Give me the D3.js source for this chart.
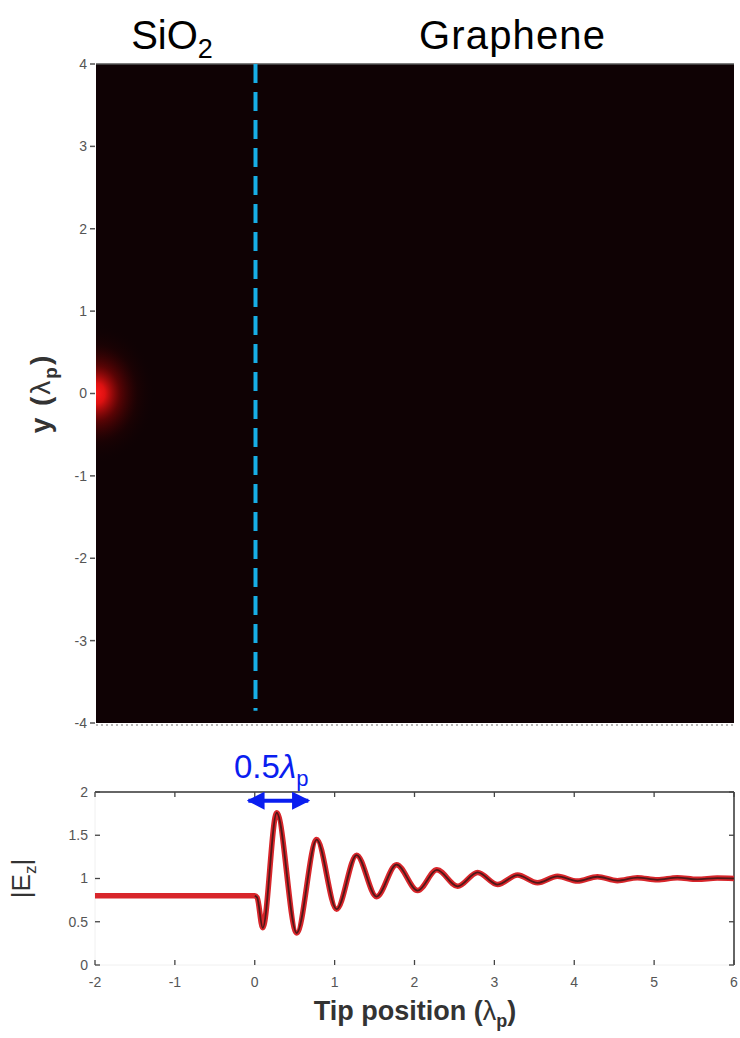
<!DOCTYPE html>
<html><head><meta charset="utf-8">
<script src="https://cdn.jsdelivr.net/npm/d3@7/dist/d3.min.js"></script>
<style>body{margin:0;background:#fff}svg{display:block}</style>
</head><body>
<script>
// ---- data ----
const xTicks = [-2,-1,0,1,2,3,4,5,6];
const yTicksTop = [4,3,2,1,0,-1,-2,-3,-4];
const yTicksBot = [0,0.5,1,1.5,2];
const yTickLabelsBot = ["0","0.5","1","1.5","2"];
const tipPos = [-2,-1,0,0.03,0.1,0.275,0.525,0.775,1.025,1.275,1.525,1.775,2.04,2.28,2.54,2.79,3.04,3.29,3.54,3.79,4.04,4.29,4.54,4.79,5.04,5.29,5.54,5.79,6];
const ezAbs  = [0.8,0.8,0.8,0.78,0.43,1.76,0.37,1.45,0.645,1.27,0.79,1.16,0.86,1.10,0.91,1.07,0.93,1.04,0.95,1.025,0.97,1.02,0.975,1.01,0.985,1.01,0.99,1.005,1.0];
const glowCenter = [-2, 0];
const glowRadius = [0.75, 0.85]; // in data units (x, y)
const interfaceX = 0;
const arrowSpan = [-0.08, 0.67];
const arrowY = 1.9;

const W = 740, H = 1038;
const FONT = "Liberation Sans, Arial, sans-serif";
const svg = d3.select("body").append("svg").attr("width", W).attr("height", H);
const defs = svg.append("defs");

// ---- top panel ----
const xT = d3.scaleLinear().domain([-2,6]).range([96,734]);
const yT = d3.scaleLinear().domain([-4,4]).range([723,64]);

defs.append("clipPath").attr("id","clipTop").append("rect")
  .attr("x", xT(-2)).attr("y", yT(4)).attr("width", xT(6)-xT(-2)).attr("height", yT(-4)-yT(4));

const rg = defs.append("radialGradient").attr("id","glow");
rg.append("stop").attr("offset","0%").attr("stop-color","#ff1a1a").attr("stop-opacity",1);
rg.append("stop").attr("offset","15%").attr("stop-color","#e81212").attr("stop-opacity",0.95);
rg.append("stop").attr("offset","40%").attr("stop-color","#8a0505").attr("stop-opacity",0.6);
rg.append("stop").attr("offset","70%").attr("stop-color","#3a0202").attr("stop-opacity",0.25);
rg.append("stop").attr("offset","100%").attr("stop-color","#100003").attr("stop-opacity",0);

const gTop = svg.append("g");
gTop.append("rect").attr("x", xT(-2)).attr("y", yT(4)).attr("width", xT(6)-xT(-2)).attr("height", yT(-4)-yT(4))
  .attr("fill","#0f0204");
gTop.append("g").attr("clip-path","url(#clipTop)").append("ellipse")
  .attr("cx", xT(glowCenter[0])).attr("cy", yT(glowCenter[1]))
  .attr("rx", xT(glowCenter[0]+glowRadius[0]) - xT(glowCenter[0]))
  .attr("ry", yT(glowCenter[1]) - yT(glowCenter[1]+glowRadius[1]))
  .attr("fill","url(#glow)");
gTop.append("line").attr("x1", xT(-2)).attr("x2", xT(6)).attr("y1", yT(4)).attr("y2", yT(4))
  .attr("stroke","#555").attr("stroke-width",1.5);
gTop.append("line").attr("x1", xT(-2)).attr("x2", xT(6)).attr("y1", yT(-4)+2).attr("y2", yT(-4)+2)
  .attr("stroke","#b8b8b8").attr("stroke-width",2).attr("stroke-dasharray","2,3");
gTop.append("line").attr("x1", xT(interfaceX)).attr("x2", xT(interfaceX)).attr("y1", yT(4)).attr("y2", yT(-3.85))
  .attr("stroke","#17aee6").attr("stroke-width",4).attr("stroke-dasharray","19,9");

const ytg = gTop.append("g");
yTicksTop.forEach(v => {
  ytg.append("line").attr("x1", xT(-2)-6).attr("x2", xT(-2)-1).attr("y1", yT(v)).attr("y2", yT(v)).attr("stroke","#555").attr("stroke-width",1.5);
  ytg.append("text").attr("x", xT(-2)-9).attr("y", yT(v)).attr("dy","0.35em").attr("text-anchor","end")
    .attr("font-family",FONT).attr("font-size",14).attr("fill","#555").text(v);
});
svg.append("text").attr("transform", `translate(50,${yT(0)}) rotate(-90)`).attr("text-anchor","middle")
  .attr("font-family",FONT).attr("font-size",28).attr("font-weight","bold").attr("fill","#333")
  .attr("letter-spacing",2)
  .html('y (<tspan font-weight="normal">λ</tspan><tspan font-size="19" dy="7">p</tspan><tspan dy="-7">)</tspan>');

svg.append("text").attr("x",172).attr("y",49).attr("text-anchor","middle")
  .attr("font-family",FONT).attr("font-size",40).attr("fill","#000")
  .html('SiO<tspan font-size="27" dy="9">2</tspan>');
svg.append("text").attr("x",512).attr("y",49).attr("text-anchor","middle")
  .attr("font-family",FONT).attr("font-size",40).attr("fill","#000")
  .attr("textLength",186).text("Graphene");

// ---- bottom panel ----
const xB = d3.scaleLinear().domain([-2,6]).range([95,734]);
const yB = d3.scaleLinear().domain([0,2]).range([965,792]);
const bot = svg.append("g");

bot.append("line").attr("x1", xB(-2)).attr("x2", xB(6)).attr("y1", yB(2)).attr("y2", yB(2)).attr("stroke","#333").attr("stroke-width",1.5);
bot.append("line").attr("x1", xB(6)).attr("x2", xB(6)).attr("y1", yB(2)).attr("y2", yB(0)).attr("stroke","#333").attr("stroke-width",1.5);
bot.append("line").attr("x1", xB(-2)).attr("x2", xB(6)).attr("y1", yB(0)).attr("y2", yB(0)).attr("stroke","#f0f0f0").attr("stroke-width",1);
bot.append("line").attr("x1", xB(-2)).attr("x2", xB(-2)).attr("y1", yB(2)).attr("y2", yB(0)).attr("stroke","#f0f0f0").attr("stroke-width",1);

xTicks.forEach(v => {
  bot.append("line").attr("x1", xB(v)).attr("x2", xB(v)).attr("y1", yB(2)).attr("y2", yB(2)+5).attr("stroke","#444").attr("stroke-width",1.3);
  bot.append("line").attr("x1", xB(v)).attr("x2", xB(v)).attr("y1", yB(0)).attr("y2", yB(0)-5).attr("stroke","#444").attr("stroke-width",1.3);
  bot.append("text").attr("x", xB(v)).attr("y", yB(0)+22).attr("text-anchor","middle")
    .attr("font-family",FONT).attr("font-size",14).attr("fill","#555").text(v);
});
yTicksBot.forEach((v,i) => {
  bot.append("line").attr("x1", xB(-2)).attr("x2", xB(-2)+5).attr("y1", yB(v)).attr("y2", yB(v)).attr("stroke","#444").attr("stroke-width",1.3);
  bot.append("line").attr("x1", xB(6)).attr("x2", xB(6)-5).attr("y1", yB(v)).attr("y2", yB(v)).attr("stroke","#444").attr("stroke-width",1.3);
  bot.append("text").attr("x", xB(-2)-7).attr("y", yB(v)).attr("dy","0.35em").attr("text-anchor","end")
    .attr("font-family",FONT).attr("font-size",14).attr("fill","#555").text(yTickLabelsBot[i]);
});

const pts = tipPos.map((x,i)=>[x, ezAbs[i]]);
const line = d3.line().x(d=>xB(d[0])).y(d=>yB(d[1])).curve(d3.curveMonotoneX);
bot.append("path").attr("d", line(pts)).attr("fill","none").attr("stroke","#d8262b").attr("stroke-width",5.5).attr("stroke-linejoin","round");
bot.append("path").attr("d", line(pts.filter(d=>d[0]>=0))).attr("fill","none").attr("stroke","#3a1515").attr("stroke-width",1.8).attr("stroke-opacity",0.85);

defs.append("marker").attr("id","ah").attr("viewBox","0 0 10 10").attr("refX",9).attr("refY",5)
  .attr("markerWidth",4.5).attr("markerHeight",4.5).attr("orient","auto-start-reverse")
  .append("path").attr("d","M0,0 L10,5 L0,10 Z").attr("fill","#0a1ef0");
bot.append("line").attr("x1", xB(arrowSpan[0])).attr("x2", xB(arrowSpan[1])).attr("y1", yB(arrowY)).attr("y2", yB(arrowY))
  .attr("stroke","#0a1ef0").attr("stroke-width",4).attr("marker-start","url(#ah)").attr("marker-end","url(#ah)");
svg.append("text").attr("x",234).attr("y",778)
  .attr("font-family",FONT).attr("font-size",33).attr("fill","#0a1ef0")
  .html('0.5<tspan font-style="italic">λ</tspan><tspan font-size="22" dy="8">p</tspan>');

svg.append("text").attr("x", 415).attr("y", 1020).attr("text-anchor","middle")
  .attr("font-family",FONT).attr("font-size",27).attr("font-weight","bold").attr("fill","#333")
  .html('Tip position (<tspan font-weight="normal">λ</tspan><tspan font-size="18" dy="7">p</tspan><tspan dy="-7">)</tspan>');
svg.append("text").attr("transform", `translate(30,${yB(1)}) rotate(-90)`).attr("text-anchor","middle")
  .attr("font-family",FONT).attr("font-size",26).attr("fill","#333")
  .html('|E<tspan font-size="17" dy="6">z</tspan><tspan dy="-6">|</tspan>');
</script>
</body></html>
